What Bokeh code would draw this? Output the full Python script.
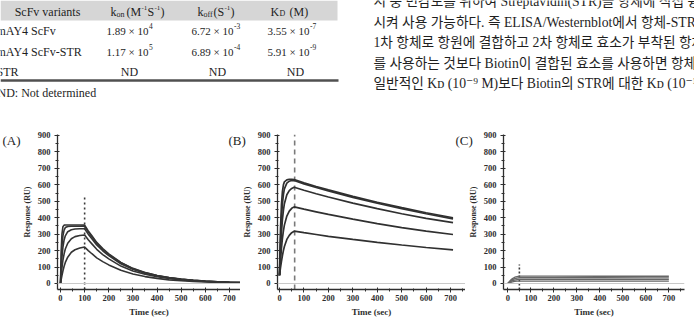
from bokeh.plotting import figure
from bokeh.layouts import column, row
from bokeh.models import FixedTicker, Range1d, Span
from bokeh.core.properties import value
from bokeh.embed import file_html
from bokeh.resources import INLINE

SERIF = "Liberation Serif"
MIXED = "'Liberation Serif', 'Noto Sans CJK KR', 'DejaVu Serif'"
INK = "#2e2e2e"

# ---------------- kinetics table ----------------
variants = ["mAY4 ScFv", "mAY4 ScFv-STR", "STR"]
kon_mantissa = ["1.89", "1.17", None]
kon_exponent = ["4", "5", None]
koff_mantissa = ["6.72", "6.89", None]
koff_exponent = ["-3", "-4", None]
kd_mantissa = ["3.55", "5.91", None]
kd_exponent = ["-7", "-9", None]
not_determined = "ND"
table_note = "ND: Not determined"

# ---------------- body text ----------------
korean_lines = [
    "시 중 민감도를 위하여 Streptavidin(STR)을 항체에 직접 융합",
    "시켜 사용 가능하다. 즉 ELISA/Westernblot에서 항체-STR을",
    "1차 항체로 항원에 결합하고 2차 항체로 효소가 부착된 항체",
    "를 사용하는 것보다 Biotin이 결합된 효소를 사용하면 항체",
    "일반적인 Kᴅ (10⁻⁹ M)보다 Biotin의 STR에 대한 Kᴅ (10⁻¹⁴ M)",
]

# ---------------- sensorgrams (Response in RU vs time in sec) ----------------
panel_tags = ["(A)", "(B)", "(C)"]
x_ticks = [0, 100, 200, 300, 400, 500, 600, 700]
x_minor = [50, 150, 250, 350, 450, 550, 650, 750]
y_ticks = [0, 100, 200, 300, 400, 500, 600, 700, 800, 900]
y_minor = [50, 150, 250, 350, 450, 550, 650, 750, 850]

# (A) mAY4 ScFv
a_time = [0, 3, 6, 10, 15, 20, 30, 45, 60, 80, 100,
          115, 130, 150, 175, 200, 250, 300, 350, 400, 450, 500, 550, 600, 650, 700, 745]
a_resp = [
    [0, 200, 300, 345, 355, 356, 356, 356, 356, 356, 355,
     320, 290, 250, 212, 180, 128, 92, 67, 49, 36, 27, 20, 15, 11, 8, 6],
    [0, 140, 230, 290, 325, 340, 347, 348, 348, 348, 348,
     314, 284, 245, 208, 176, 126, 90, 66, 48, 35, 26, 20, 15, 11, 8, 6],
    [0, 90, 160, 220, 265, 290, 315, 327, 331, 333, 333,
     300, 272, 234, 199, 169, 120, 86, 63, 46, 34, 25, 19, 14, 10, 7, 6],
    [0, 50, 95, 140, 180, 210, 245, 272, 285, 292, 295,
     266, 241, 208, 176, 150, 106, 76, 56, 41, 30, 22, 17, 12, 9, 7, 5],
    [0, 25, 48, 75, 105, 128, 160, 190, 205, 216, 222,
     200, 181, 156, 133, 113, 80, 58, 42, 31, 22, 17, 12, 9, 7, 5, 4],
]
a_inject_end = 100
a_marker_top = 535

# (B) mAY4 ScFv-STR
b_time = [0, 4, 8, 12, 16, 20, 30, 40, 50, 60,
          100, 150, 200, 300, 400, 500, 600, 710]
b_resp = [
    [50, 330, 480, 560, 600, 618, 630, 634, 633, 632, 612, 590, 569, 530, 494, 461, 430, 400],
    [50, 260, 400, 485, 540, 575, 610, 622, 626, 626, 606, 584, 563, 524, 488, 455, 424, 393],
    [50, 200, 310, 390, 445, 485, 540, 565, 578, 585, 567, 546, 526, 489, 455, 424, 396, 370],
    [50, 140, 215, 275, 320, 355, 410, 440, 457, 466, 452, 436, 420, 391, 364, 340, 318, 298],
    [50, 95, 135, 170, 200, 225, 268, 293, 309, 318, 309, 298, 287, 268, 250, 234, 219, 205],
]
b_inject_end = 62
b_marker_top = 906

# (C) STR
c_time = [0, 10, 20, 30, 40, 50, 200, 400, 600, 700]
c_resp = [
    [0, 18, 30, 38, 42, 45, 45, 44, 44, 44],
    [0, 14, 24, 30, 33, 35, 35, 35, 34, 34],
    [0, 10, 17, 21, 24, 25, 25, 25, 25, 25],
    [0, 6, 10, 13, 14, 15, 15, 15, 15, 15],
]
c_inject_end = 50
c_marker_top = 115


# ---------------- top strip: table, text and panel tags ----------------
top = figure(width=694, height=150, x_range=Range1d(0, 694), y_range=Range1d(150, 0),
             x_axis_location=None, y_axis_location=None, min_border=0,
             toolbar_location=None, output_backend="svg")
top.outline_line_color = None
top.grid.visible = False


def txt(x, y, s, size="12px", align="left", font=SERIF, color="#1e1e1e"):
    top.text(x=[x], y=[y], text=[s], text_font=value(font), text_font_size=size,
             text_align=align, text_baseline="middle", text_color=color)


# header band and closing rule
top.quad(left=0, right=337, top=0, bottom=20, fill_color="#d6d6d6", line_color=None)
top.segment(x0=0, x1=338, y0=80, y1=80, line_color="#505050", line_width=2.5)

# header cells
txt(47, 11, "ScFv variants", align="center")
txt(110, 11, "k")
txt(116, 14, "on", size="8px")
txt(126, 11, "(M")
txt(141, 7, "-1", size="7px")
txt(147, 11, "S")
txt(154, 7, "-1", size="7px")
txt(160, 11, ")")
txt(197, 11, "k")
txt(203, 14, "off", size="8px")
txt(213, 11, "(S")
txt(224, 7, "-1", size="7px")
txt(230, 11, ")")
txt(270, 11, "K")
txt(279, 13, "D", size="8px")
txt(289, 11, "(M)")

# body rows
row_y = [30, 51, 71]
columns = [(kon_mantissa, kon_exponent, 148, 129),
           (koff_mantissa, koff_exponent, 233, 217),
           (kd_mantissa, kd_exponent, 309, 295)]
for i, name in enumerate(variants):
    y = row_y[i]
    txt(-4, y, name)
    for mant, expo, right_edge, centre in columns:
        if mant[i] is None:
            txt(centre, y, not_determined, align="center")
        else:
            txt(right_edge, y, mant[i] + " × 10", size="11px", align="right")
            txt(right_edge + 0.5, y - 5, expo[i], size="7.5px")

txt(-3, 92, table_note)

for k, line in enumerate(korean_lines):
    txt(373, 1 + 20.5 * k, line, size="13.7px", font=MIXED)

# panel tags sit above the upper-left corner of each sensorgram
for tag, tx in zip(panel_tags, [2, 228, 455]):
    txt(tx, 140, tag, size="13px")


# ---------------- sensorgram panels ----------------
def sensorgram(times, curves, inject_end, marker_top, marker_dash, marker_color,
               curve_color, curve_width, width, border_left, border_right, x_lo, x_hi, shift):
    p = figure(width=width, height=202, x_range=Range1d(x_lo, x_hi),
               y_range=Range1d(-36.5, 906),
               min_border_left=border_left, min_border_right=border_right,
               min_border_top=14, min_border_bottom=33,
               toolbar_location=None, output_backend="svg",
               margin=(0, 0, 0, shift))
    p.outline_line_color = None
    p.grid.visible = False
    p.background_fill_alpha = 0
    p.border_fill_alpha = 0

    p.add_layout(Span(location=0, dimension="width", line_color="#c9c9c9", line_width=1.2))
    p.segment(x0=inject_end, x1=inject_end, y0=-36.5, y1=marker_top,
              line_color=marker_color, line_width=1.6, line_dash=marker_dash)

    for resp in curves:
        p.line(times, resp, line_color=curve_color, line_width=curve_width)

    p.xaxis.ticker = FixedTicker(ticks=x_ticks, minor_ticks=x_minor)
    p.yaxis.ticker = FixedTicker(ticks=y_ticks, minor_ticks=y_minor)
    p.xaxis.axis_label = "Time (sec)"
    p.yaxis.axis_label = "Response (RU)"
    for ax in (p.xaxis[0], p.yaxis[0]):
        ax.axis_line_color = INK
        ax.axis_line_width = 1.3
        ax.major_tick_line_color = INK
        ax.major_tick_in = 2
        ax.major_tick_out = 3
        ax.minor_tick_line_color = INK
        ax.minor_tick_in = 1
        ax.minor_tick_out = 2
        ax.major_label_text_font = SERIF
        ax.major_label_text_font_size = "8.5px"
        ax.major_label_text_font_style = "bold"
        ax.major_label_text_color = INK
        ax.axis_label_text_font = SERIF
        ax.axis_label_text_font_style = "bold"
        ax.axis_label_text_color = INK
        ax.axis_label_standoff = 3
    p.xaxis.axis_label_text_font_size = "9px"
    p.yaxis.axis_label_text_font_size = "8px"
    p.xaxis.major_label_standoff = 2
    p.yaxis.major_label_standoff = 4
    return p


pa = sensorgram(a_time, a_resp, a_inject_end, a_marker_top, "2 3", "#3a3a3a",
                "#343434", 1.6, 240, 57, 0, -12.4, 745.6, 0)
pb = sensorgram(b_time, b_resp, b_inject_end, b_marker_top, "5 4", "#7a7a7a",
                "#303030", 1.7, 237, 49, 0, -8.2, 761, -12)
pc = sensorgram(c_time, c_resp, c_inject_end, c_marker_top, "2 2", "#3a3a3a",
                "#666666", 1.3, 242, 51, 10, -19, 768, -13)

bottom = row(pa, pb, pc, spacing=0, margin=(-30, 0, 0, 0))
layout = column(top, bottom, spacing=0)
open("out.html", "w").write(file_html(layout, INLINE))
